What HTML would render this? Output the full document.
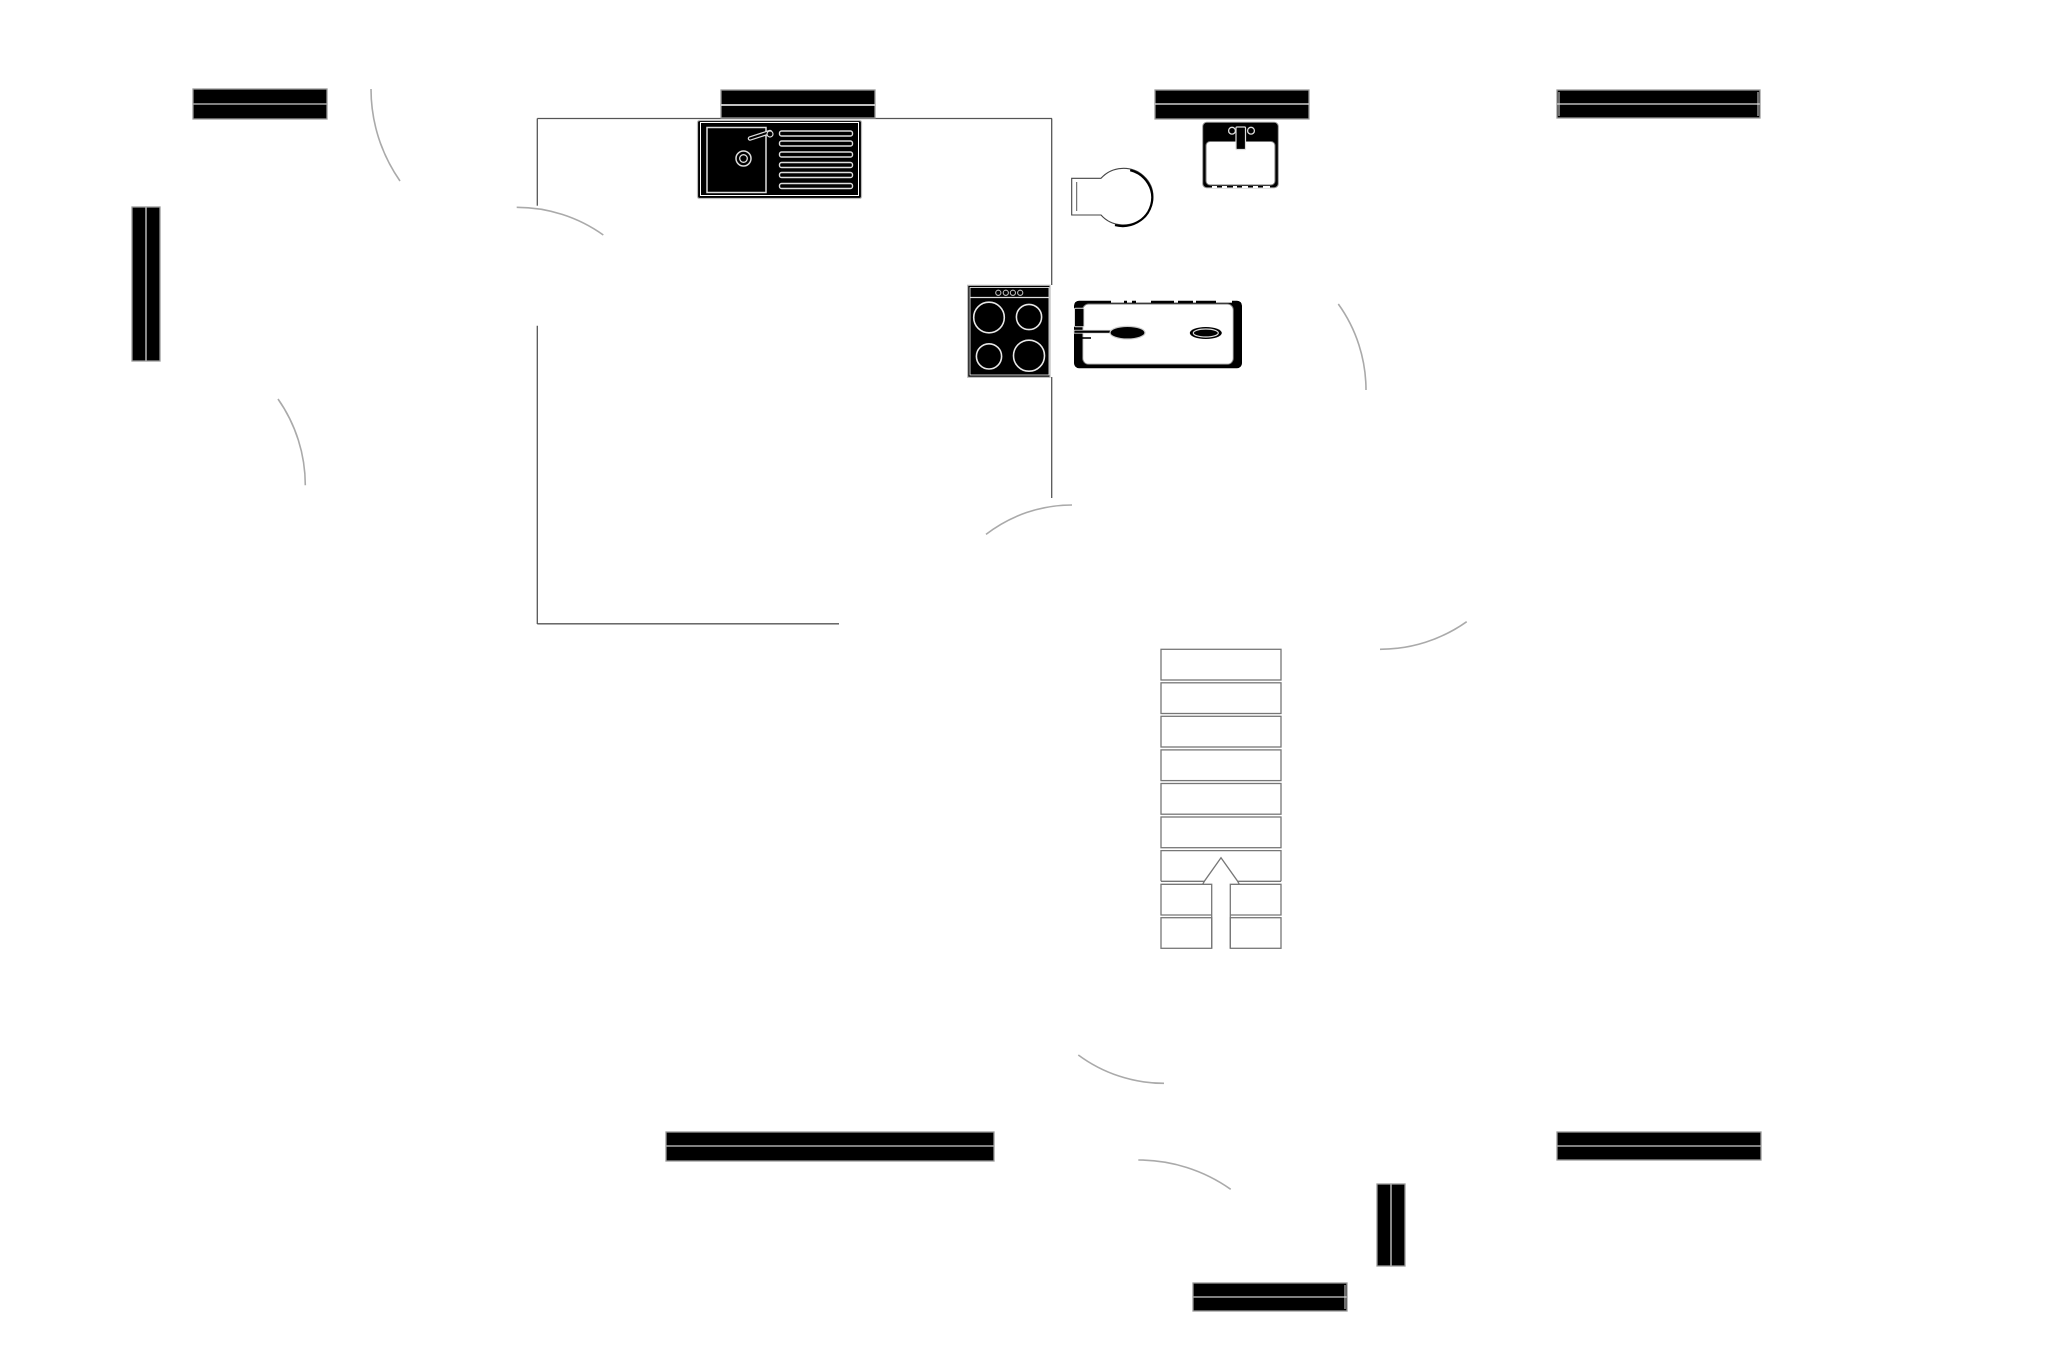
<!DOCTYPE html>
<html>
<head>
<meta charset="utf-8">
<style>
html,body{margin:0;padding:0;background:#fff;}
svg{display:block;}
</style>
</head>
<body>
<svg width="2057" height="1371" viewBox="0 0 2057 1371" xmlns="http://www.w3.org/2000/svg">
<rect x="0" y="0" width="2057" height="1371" fill="#fff"/>

<!-- Door swing arcs -->
<g fill="none" stroke="#aaa" stroke-width="1.6">
  <path d="M371 89 A160.4 160.4 0 0 0 400 181"/>
  <path d="M278 399 A150 150 0 0 1 305.3 485.3"/>
  <path d="M516.7 207.3 A149 149 0 0 1 603.3 235"/>
  <path d="M986 534.4 A140.5 140.5 0 0 1 1072 505"/>
  <path d="M1338.3 304 A147.3 147.3 0 0 1 1366 390"/>
  <path d="M1380 649.3 A150 150 0 0 0 1466.7 621.7"/>
  <path d="M1078.3 1055 A143.9 143.9 0 0 0 1164 1083.3"/>
  <path d="M1138.3 1160 A160 160 0 0 1 1230.7 1189.3"/>
</g>

<!-- Kitchen walls -->
<g stroke="#555" stroke-width="1.3" fill="none">
  <line x1="537.3" y1="118.5" x2="1052" y2="118.5"/>
  <line x1="537.3" y1="118.5" x2="537.3" y2="205.7"/>
  <line x1="537.3" y1="325.7" x2="537.3" y2="624"/>
  <line x1="537.3" y1="623.8" x2="839" y2="623.8"/>
  <line x1="1051.7" y1="118.5" x2="1051.7" y2="285"/>
  <line x1="1051.7" y1="377" x2="1051.7" y2="498"/>
</g>

<!-- Windows -->
<g stroke="#999" stroke-width="1.3">
  <rect x="193" y="89" width="134" height="30" fill="#000"/>
  <line x1="193" y1="104" x2="327" y2="104" stroke="#aaa" stroke-width="1.6"/>

  <rect x="132" y="207" width="28" height="154" fill="#000"/>
  <line x1="146" y1="207" x2="146" y2="361" stroke="#aaa" stroke-width="1.6"/>

  <rect x="721" y="90" width="154" height="28" fill="#000"/>
  <line x1="721" y1="105" x2="875" y2="105" stroke="#ddd" stroke-width="1.8"/>

  <rect x="1155" y="90" width="154" height="29" fill="#000"/>
  <line x1="1155" y1="104" x2="1309" y2="104" stroke="#ccc" stroke-width="1.6"/>

  <rect x="1557" y="90" width="203" height="28" fill="#000"/>
  <line x1="1557" y1="104" x2="1760" y2="104" stroke="#bbb" stroke-width="1.6"/>
  <line x1="1559" y1="92" x2="1559" y2="116" stroke="#ddd" stroke-width="1"/>
  <line x1="1758" y1="92" x2="1758" y2="116" stroke="#ddd" stroke-width="1"/>

  <rect x="666" y="1132" width="328" height="29" fill="#000"/>
  <line x1="666" y1="1146" x2="994" y2="1146" stroke="#aaa" stroke-width="1.6"/>

  <rect x="1557" y="1132" width="204" height="28" fill="#000"/>
  <line x1="1557" y1="1146" x2="1761" y2="1146" stroke="#aaa" stroke-width="1.6"/>

  <rect x="1377" y="1184" width="28" height="82" fill="#000"/>
  <line x1="1391" y1="1184" x2="1391" y2="1266" stroke="#aaa" stroke-width="1.6"/>

  <rect x="1193" y="1283" width="154" height="28" fill="#000"/>
  <line x1="1193" y1="1297" x2="1347" y2="1297" stroke="#aaa" stroke-width="1.6"/>
  <line x1="1345" y1="1285" x2="1345" y2="1309" stroke="#ddd" stroke-width="1"/>
</g>

<!-- Kitchen sink -->
<g>
  <rect x="697.5" y="120.5" width="164" height="78" rx="2" fill="#000" stroke="#bbb" stroke-width="1.2"/>
  <rect x="700.5" y="122.5" width="158" height="73" fill="#000" stroke="#fff" stroke-width="1"/>
  <rect x="707" y="127.5" width="59" height="65" fill="#000" stroke="#ddd" stroke-width="1.5"/>
  <circle cx="743.5" cy="158.5" r="7.5" fill="#000" stroke="#ddd" stroke-width="1.5"/>
  <circle cx="743.5" cy="158.5" r="3.8" fill="#000" stroke="#ddd" stroke-width="1.3"/>
  <path d="M750 138.5 L770 132" stroke="#ddd" stroke-width="4.5" stroke-linecap="round" fill="none"/>
  <path d="M750 138.5 L770 132" stroke="#000" stroke-width="2" stroke-linecap="round" fill="none"/>
  <circle cx="770" cy="134" r="3" fill="#000" stroke="#ddd" stroke-width="1.2"/>
  <g fill="#000" stroke="#ddd" stroke-width="1.4">
    <rect x="779.5" y="131" width="73" height="5" rx="2"/>
    <rect x="779.5" y="141" width="73" height="5" rx="2"/>
    <rect x="779.5" y="152" width="73" height="5" rx="2"/>
    <rect x="779.5" y="162.5" width="73" height="5" rx="2"/>
    <rect x="779.5" y="172.5" width="73" height="5" rx="2"/>
    <rect x="779.5" y="183.5" width="73" height="5" rx="2"/>
  </g>
</g>

<!-- Stove -->
<g>
  <rect x="967.7" y="285.3" width="82.3" height="92" fill="#000" stroke="#bbb" stroke-width="1.2"/>
  <rect x="970" y="287.5" width="79" height="87.5" fill="#000" stroke="#fff" stroke-width="0.8"/>
  <line x1="970" y1="297.5" x2="1049" y2="297.5" stroke="#ddd" stroke-width="1.3"/>
  <g fill="none" stroke="#bbb" stroke-width="1.1">
    <circle cx="998.3" cy="292.8" r="2.6"/>
    <circle cx="1005.8" cy="292.8" r="2.6"/>
    <circle cx="1012.9" cy="292.8" r="2.6"/>
    <circle cx="1020.2" cy="292.8" r="2.6"/>
  </g>
  <g fill="none" stroke="#e8e8e8" stroke-width="1.6">
    <circle cx="989" cy="317.5" r="15.3"/>
    <circle cx="1029" cy="317" r="12.6"/>
    <circle cx="989" cy="356.4" r="12.6"/>
    <circle cx="1029" cy="355.7" r="15.5"/>
  </g>
</g>

<!-- Toilet -->
<g>
  <path d="M1071.7 178.3 L1101 178.3 A29.5 28.3 0 1 1 1101 215 L1071.7 215 Z" fill="#fff" stroke="#444" stroke-width="1.1"/>
  <path d="M1130.2 170.2 A29.5 28.3 0 1 1 1115 225.1" fill="none" stroke="#000" stroke-width="2.2"/>
  <line x1="1076.7" y1="182" x2="1076.7" y2="211" stroke="#555" stroke-width="1"/>
</g>

<!-- Bathroom sink -->
<g>
  <rect x="1202.7" y="122.3" width="75.6" height="65.4" rx="4" fill="#000" stroke="#999" stroke-width="1"/>
  <rect x="1206" y="141.5" width="69" height="43.5" rx="4" fill="#fff" stroke="#777" stroke-width="1"/>
  <g stroke="#fff" stroke-width="2">
    <line x1="1212" y1="187" x2="1217" y2="187"/>
    <line x1="1222" y1="187" x2="1227" y2="187"/>
    <line x1="1233" y1="187" x2="1237" y2="187"/>
    <line x1="1242" y1="187" x2="1248" y2="187"/>
    <line x1="1253" y1="187" x2="1258" y2="187"/>
    <line x1="1263" y1="187" x2="1270" y2="187"/>
  </g>
  <circle cx="1232" cy="130.7" r="3.4" fill="#000" stroke="#ddd" stroke-width="1.3"/>
  <circle cx="1251" cy="130.7" r="3.4" fill="#000" stroke="#ddd" stroke-width="1.3"/>
  <rect x="1236" y="127" width="9.5" height="22.5" rx="1" fill="#000" stroke="#ddd" stroke-width="1.2"/>
</g>

<!-- Bathtub -->
<g>
  <rect x="1074" y="300.7" width="168" height="67.5" rx="5" fill="#000"/>
  <rect x="1082.7" y="304" width="150.6" height="60.3" rx="6" fill="#fff" stroke="#777" stroke-width="1"/>
  <g stroke="#fff" stroke-width="2.2">
    <line x1="1111" y1="301.6" x2="1124" y2="301.6"/>
    <line x1="1127" y1="301.6" x2="1132" y2="301.6"/>
    <line x1="1136" y1="301.6" x2="1151" y2="301.6"/>
    <line x1="1174" y1="301.6" x2="1178" y2="301.6"/>
    <line x1="1193" y1="301.6" x2="1196" y2="301.6"/>
    <line x1="1216" y1="301.6" x2="1232" y2="301.6"/>
  </g>
  <rect x="1074.5" y="308.3" width="9.5" height="18.4" rx="1" fill="#000" stroke="#ddd" stroke-width="1"/>
  <rect x="1074" y="330.2" width="38" height="3" fill="#000" stroke="#ddd" stroke-width="0.8"/>
  <line x1="1076" y1="338" x2="1091" y2="338" stroke="#000" stroke-width="1.6"/>
  <ellipse cx="1127.5" cy="332.7" rx="17.5" ry="6.3" fill="#000" stroke="#ccc" stroke-width="1.2"/>
  <ellipse cx="1205.8" cy="333" rx="16" ry="6" fill="#000"/>
  <ellipse cx="1205.8" cy="333" rx="12.5" ry="4" fill="none" stroke="#ddd" stroke-width="1.2"/>
  <ellipse cx="1205.8" cy="333" rx="9" ry="2" fill="#000"/>
</g>

<!-- Stairs -->
<g fill="none" stroke="#777" stroke-width="1.3">
  <rect x="1161" y="649.3" width="120" height="30.7"/>
  <rect x="1161" y="682.8" width="120" height="30.7"/>
  <rect x="1161" y="716.3" width="120" height="30.7"/>
  <rect x="1161" y="749.9" width="120" height="30.7"/>
  <rect x="1161" y="783.5" width="120" height="30.7"/>
  <rect x="1161" y="817" width="120" height="30.7"/>
  <polyline points="1161,881.3 1161,850.6 1281,850.6 1281,881.3"/>
  <polyline points="1161,881.3 1204.3,881.3 1221,857.7 1237.7,881.3 1281,881.3"/>
  <polyline points="1202.7,884.3 1161,884.3 1161,915 1211.7,915"/>
  <polyline points="1204.3,881.3 1202.7,884.3 1211.7,884.3 1211.7,948.3"/>
  <polyline points="1237.7,881.3 1239.3,884.3 1230.3,884.3 1230.3,948.3"/>
  <polyline points="1239.3,884.3 1281,884.3 1281,915 1230.3,915"/>
  <rect x="1161" y="917.7" width="50.7" height="30.6"/>
  <rect x="1230.3" y="917.7" width="50.7" height="30.6"/>
</g>
</svg>
</body>
</html>
